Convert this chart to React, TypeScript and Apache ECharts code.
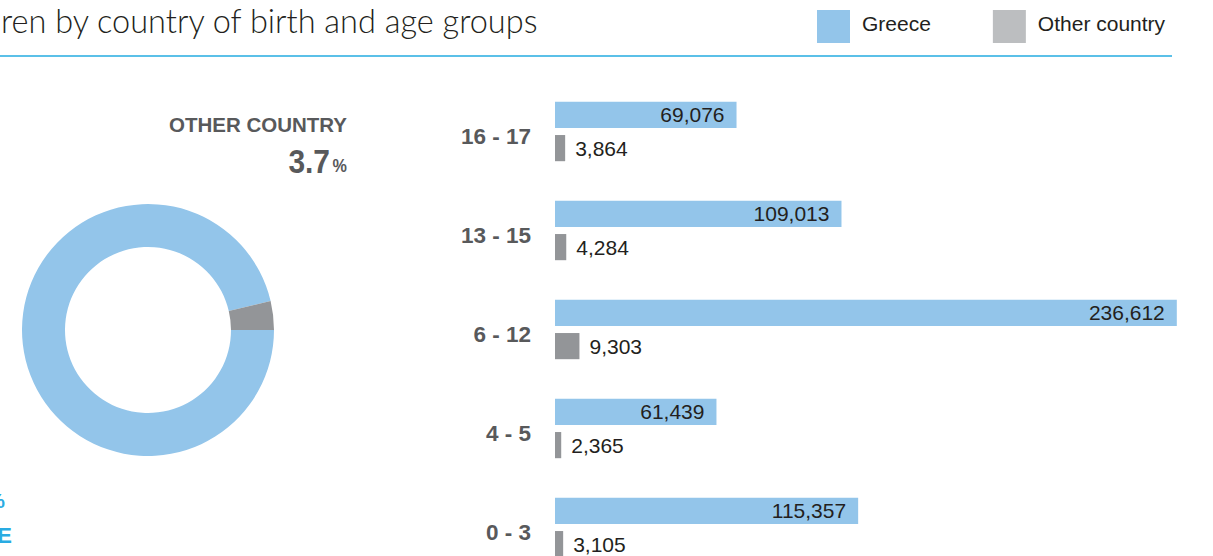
import React, { useEffect, useRef } from "react";
import * as echarts from "echarts";

const categories = ["16 - 17", "13 - 15", "6 - 12", "4 - 5", "0 - 3"];
const greeceValues = [69076, 109013, 236612, 61439, 115357];
const otherValues = [3864, 4284, 9303, 2365, 3105];
const shareNames = ["Greece", "Other country"];
const shareValues = [96.3, 3.7];

const BLUE = "#93c5ea";
const GRAY = "#939598";
const LEGEND_GRAY = "#bcbec0";
const LABEL = "#58595b";
const CYAN = "#29abe2";
const FONT = "'Liberation Sans', Arial, sans-serif";

export default function App() {
  const ref = useRef<HTMLDivElement>(null);
  useEffect(() => {
    const chart = echarts.init(ref.current!, null, { renderer: "svg" });
    const fmt = (v: number) => v.toLocaleString("en-US");
    chart.setOption({
      animation: false,
      textStyle: { fontFamily: FONT },
      legend: {
        left: 812,
        top: 5,
        itemWidth: 33,
        itemHeight: 33,
        itemGap: 62,
        icon: "rect",
        formatter: "{t|{name}}",
        textStyle: {
          fontSize: 21,
          color: "#231f20",
          fontFamily: FONT,
          rich: {
            t: { fontSize: 21, color: "#231f20", fontFamily: FONT, padding: [0, 0, 6, 7] },
          },
        },
        data: [
          { name: shareNames[0], itemStyle: { color: BLUE } },
          { name: shareNames[1], itemStyle: { color: LEGEND_GRAY } },
        ],
        selectedMode: false,
      },
      graphic: [
        {
          type: "text",
          left: 1,
          top: 4,
          style: {
            text: "ren by country of birth and age groups",
            fontFamily: "Lato, 'Open Sans', sans-serif",
            fontWeight: 300,
            fontSize: 32.5,
            fill: "#231f20",
          },
        },
        {
          type: "line",
          shape: { x1: 0, y1: 56, x2: 1172, y2: 56 },
          style: { stroke: "#5bc0e8", lineWidth: 2 },
        },
        {
          type: "text",
          x: 347,
          y: 124,
          style: {
            text: "OTHER COUNTRY",
            align: "right",
            verticalAlign: "middle",
            fontFamily: FONT,
            fontWeight: "bold",
            fontSize: 20.5,
            fill: LABEL,
          },
        },
        {
          type: "text",
          x: 330,
          y: 161,
          scaleX: 0.88,
          style: {
            text: String(shareValues[1]),
            align: "right",
            verticalAlign: "middle",
            fontFamily: FONT,
            fontWeight: "bold",
            fontSize: 34,
            fill: LABEL,
          },
        },
        {
          type: "text",
          x: 347,
          y: 166,
          scaleX: 0.9,
          style: {
            text: "%",
            align: "right",
            verticalAlign: "middle",
            fontFamily: FONT,
            fontWeight: "bold",
            fontSize: 18,
            fill: LABEL,
          },
        },
        {
          type: "text",
          x: 5,
          y: 500,
          style: {
            text: shareValues[0] + "%",
            align: "right",
            verticalAlign: "middle",
            fontFamily: FONT,
            fontWeight: "bold",
            fontSize: 21,
            fill: CYAN,
          },
        },
        {
          type: "text",
          x: 12,
          y: 535,
          style: {
            text: "GREECE",
            align: "right",
            verticalAlign: "middle",
            fontFamily: FONT,
            fontWeight: "bold",
            fontSize: 22,
            fill: CYAN,
          },
        },
      ],
      grid: {
        left: 555,
        right: 1,
        top: 82,
        height: 495,
        containLabel: false,
        outerBoundsMode: "none",
      },
      xAxis: {
        type: "value",
        min: 0,
        max: 250000,
        show: false,
      },
      yAxis: {
        type: "category",
        data: categories,
        inverse: true,
        axisLine: { show: false },
        axisTick: { show: false },
        axisLabel: {
          margin: 24,
          formatter: "{c|{value}}",
          rich: {
            c: {
              fontSize: 22.5,
              fontWeight: "bold",
              color: LABEL,
              fontFamily: FONT,
              padding: [9, 0, 0, 0],
            },
          },
        },
      },
      series: [
        {
          name: shareNames[0],
          type: "bar",
          data: greeceValues,
          barGap: "27%",
          barCategoryGap: "40%",
          itemStyle: { color: BLUE },
          label: {
            show: true,
            position: "insideRight",
            distance: 12,
            color: "#231f20",
            fontSize: 21,
            fontFamily: FONT,
            formatter: (p: any) => fmt(p.value),
          },
          silent: true,
        },
        {
          name: shareNames[1],
          type: "bar",
          data: otherValues,
          itemStyle: { color: GRAY },
          label: {
            show: true,
            position: "right",
            distance: 10,
            color: "#231f20",
            fontSize: 21,
            fontFamily: FONT,
            formatter: (p: any) => fmt(p.value),
          },
          silent: true,
        },
        {
          type: "pie",
          center: [148, 330],
          radius: [83, 126],
          startAngle: 0,
          clockwise: true,
          label: { show: false },
          labelLine: { show: false },
          silent: true,
          data: shareNames.map((n, i) => ({
            name: n,
            value: shareValues[i],
            itemStyle: { color: i === 0 ? BLUE : GRAY },
          })),
        },
      ],
    });
    return () => chart.dispose();
  }, []);
  return (
    <div
      ref={ref}
      style={{ position: "absolute", left: 0, top: 0, width: 1213, height: 556 }}
    />
  );
}
